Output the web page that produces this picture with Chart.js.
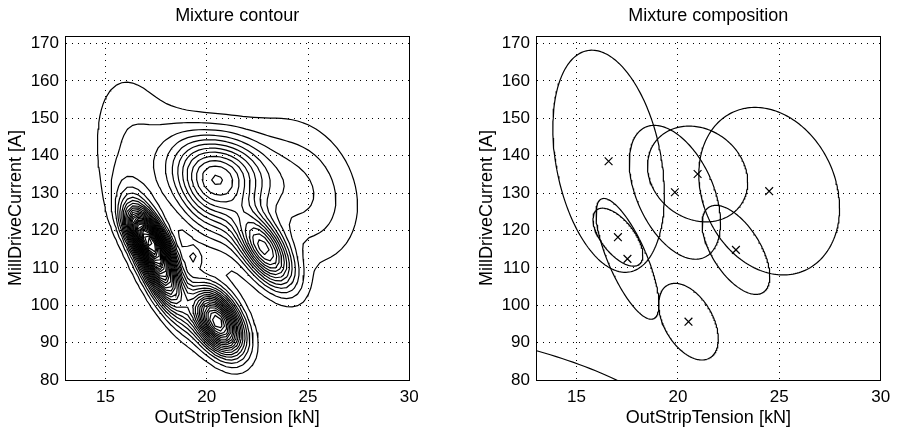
<!DOCTYPE html>
<html>
<head>
<meta charset="utf-8">
<script src="https://cdn.jsdelivr.net/npm/chart.js@4.4.1/dist/chart.umd.min.js"></script>
<style>
  html, body { margin: 0; padding: 0; background: #fff; }
  .panel { position: absolute; top: 0; width: 449px; height: 431px; }
</style>
</head>
<body>
<div class="panel" style="left:0"><canvas id="contour" width="449" height="431"></canvas></div>
<div class="panel" style="left:449px"><canvas id="composition" width="449" height="431"></canvas></div>
<script>
// Mixture components: centre = cross, shape = drawn ellipse
var compX   = [16.58, 19.85, 20.97, 24.50, 22.86, 20.52, 17.04, 17.51, 11.0];
var compY   = [138.5, 130.2, 135.1, 130.5, 114.8, 95.6, 118.2, 112.4, 72.0];
var compSx  = [2.75, 2.25, 2.47, 3.47, 1.67, 1.47, 1.23, 1.55, 9.7];     // ellipse half width [kN]
var compSy  = [29.7, 17.9, 12.8, 22.4, 11.9, 10.25, 7.75, 16.15, 21.3];  // ellipse half height [A]
var compRho = [-0.30, -0.45, -0.17, -0.20, -0.59, -0.45, -0.62, -0.75, -0.50];

// Peak height of each component in the left panel, counted in contour steps
var compPeak = [2.25, 5.5, 8.5, 3.2, 12.5, 20, 12, 20, 0];

// small isolated hill between the ridges in the left panel
var hillX = [19.35], hillY = [112.8], hillSx = [0.5], hillSy = [3.5], hillRho = [-0.3], hillPeak = [2.4];

var xTicks = [15, 20, 25, 30];
var yTicks = [80, 90, 100, 110, 120, 130, 140, 150, 160, 170];

var FAMILY = '"Liberation Sans", Arial, Helvetica, sans-serif';
var TICK_FONT = { family: FAMILY, size: 17, weight: 'normal' };
var TITLE_FONT = { family: FAMILY, size: 18, weight: 'normal' };

// ellipses are drawn at about 1.8 standard deviations
var SIGMAS = 1.8;

function gauss(x, y, cx, cy, sx, sy, r, h) {
  var u = (x - cx) / sx, v = (y - cy) / sy;
  var q = (u * u - 2 * r * u * v + v * v) / (1 - r * r);
  return h * Math.exp(-0.5 * SIGMAS * SIGMAS * q);
}

function density(x, y) {
  var f = 0, i;
  for (i = 0; i < compX.length; i++) f += gauss(x, y, compX[i], compY[i], compSx[i], compSy[i], compRho[i], compPeak[i]);
  for (i = 0; i < hillX.length; i++) f += gauss(x, y, hillX[i], hillY[i], hillSx[i], hillSy[i], hillRho[i], hillPeak[i]);
  return f;
}

// evaluation grid (coarse, like the original)
var nx = 71, ny = 61, gx = [], gy = [], field = [], fmax = 0;
for (var i = 0; i < nx; i++) gx.push(12 + 19 * i / (nx - 1));
for (var j = 0; j < ny; j++) gy.push(74 + 102 * j / (ny - 1));
for (j = 0; j < ny; j++) {
  field.push([]);
  for (i = 0; i < nx; i++) { var d = density(gx[i], gy[j]); field[j].push(d); if (d > fmax) fmax = d; }
}

var CASES = { 1: [[3, 0]], 2: [[0, 1]], 3: [[3, 1]], 4: [[1, 2]], 6: [[0, 2]], 7: [[3, 2]], 8: [[2, 3]],
              9: [[0, 2]], 11: [[1, 2]], 12: [[1, 3]], 13: [[0, 1]], 14: [[0, 3]] };

function contourLevel(level) {
  var pts = {}, segs = [];
  function edge(key, xa, ya, va, xb, yb, vb) {
    if ((va > level) === (vb > level)) return null;
    if (!pts[key]) { var t = (level - va) / (vb - va); pts[key] = { x: xa + t * (xb - xa), y: ya + t * (yb - ya) }; }
    return key;
  }
  for (var j = 0; j < ny - 1; j++) {
    for (var i = 0; i < nx - 1; i++) {
      var v0 = field[j][i], v1 = field[j][i + 1], v2 = field[j + 1][i + 1], v3 = field[j + 1][i];
      var c = (v0 > level ? 1 : 0) | (v1 > level ? 2 : 0) | (v2 > level ? 4 : 0) | (v3 > level ? 8 : 0);
      if (c === 0 || c === 15) continue;
      var x0 = gx[i], x1 = gx[i + 1], y0 = gy[j], y1 = gy[j + 1];
      var keys = [
        edge('h' + i + '_' + j, x0, y0, v0, x1, y0, v1),
        edge('v' + (i + 1) + '_' + j, x1, y0, v1, x1, y1, v2),
        edge('h' + i + '_' + (j + 1), x0, y1, v3, x1, y1, v2),
        edge('v' + i + '_' + j, x0, y0, v0, x0, y1, v3)
      ];
      var pairs;
      if (c === 5 || c === 10) {
        var centre = (v0 + v1 + v2 + v3) / 4 > level;
        pairs = ((c === 5) === centre) ? [[0, 1], [2, 3]] : [[3, 0], [1, 2]];
      } else {
        pairs = CASES[c];
      }
      for (var p = 0; p < pairs.length; p++) segs.push([keys[pairs[p][0]], keys[pairs[p][1]]]);
    }
  }
  // join the segments into polylines
  var adj = {}, used = [];
  segs.forEach(function (s, k) {
    (adj[s[0]] = adj[s[0]] || []).push(k);
    (adj[s[1]] = adj[s[1]] || []).push(k);
  });
  function walk(key) {
    var list = [];
    for (;;) {
      var next = -1, cand = adj[key];
      for (var m = 0; m < cand.length; m++) if (!used[cand[m]]) { next = cand[m]; break; }
      if (next < 0) break;
      used[next] = true;
      key = segs[next][0] === key ? segs[next][1] : segs[next][0];
      list.push(key);
    }
    return list;
  }
  var out = [];
  for (var k = 0; k < segs.length; k++) {
    if (used[k]) continue;
    used[k] = true;
    var fwd = walk(segs[k][1]);
    var back = walk(segs[k][0]).reverse();
    var chain = back.concat([segs[k][0], segs[k][1]], fwd);
    chain.forEach(function (key) { out.push(pts[key]); });
    out.push({ x: NaN, y: NaN });
  }
  return out;
}

function ellipsePoints(i) {
  var pts = [], s = Math.sqrt(1 - compRho[i] * compRho[i]);
  for (var n = 0; n <= 200; n++) {
    var t = 2 * Math.PI * n / 200;
    pts.push({ x: compX[i] + compSx[i] * Math.cos(t),
               y: compY[i] + compSy[i] * (compRho[i] * Math.cos(t) + s * Math.sin(t)) });
  }
  return pts;
}

function lineSet(data) {
  return { data: data, showLine: true, borderColor: '#000', borderWidth: 1.2, pointRadius: 0,
           spanGaps: false, tension: 0, fill: false };
}

function makeChart(id, title, datasets, padLeft, padRight) {
  return new Chart(document.getElementById(id), {
    type: 'scatter',
    data: { datasets: datasets },
    options: {
      responsive: false,
      animation: false,
      events: [],
      layout: { padding: { left: padLeft, right: padRight, top: 0, bottom: 0 } },
      plugins: { legend: { display: false }, tooltip: { enabled: false } },
      scales: {
        x: {
          type: 'linear', position: 'bottom', min: 13, max: 30,
          afterBuildTicks: function (s) { s.ticks = xTicks.map(function (v) { return { value: v }; }); },
          ticks: { color: '#000', font: TICK_FONT, padding: 7, maxRotation: 0 },
          grid: { color: '#000', lineWidth: 1, drawTicks: false },
          border: { color: '#000', width: 1, dash: [1, 5] },
          title: { display: true, text: 'OutStripTension [kN]', color: '#000', font: TITLE_FONT, padding: { top: 0, bottom: 2 } },
          afterFit: function (s) { s.height = 51; }
        },
        y: {
          type: 'linear', position: 'left', min: 80, max: 172,
          afterBuildTicks: function (s) { s.ticks = yTicks.map(function (v) { return { value: v }; }); },
          ticks: { color: '#000', font: TICK_FONT, padding: 6 },
          grid: { color: '#000', lineWidth: 1, drawTicks: false },
          border: { color: '#000', width: 1, dash: [1, 5] },
          title: { display: true, text: 'MillDriveCurrent [A]', color: '#000', font: TITLE_FONT, padding: { top: 5, bottom: 0 } },
          afterFit: function (s) { s.width = 65; }
        },
        x2: {
          type: 'linear', position: 'top', min: 13, max: 30,
          ticks: { display: false }, grid: { display: false },
          border: { color: '#000', width: 1 },
          title: { display: true, text: title, color: '#000', font: TITLE_FONT, padding: { top: 5.5, bottom: 0 } },
          afterFit: function (s) { s.height = 36; }
        },
        y2: {
          type: 'linear', position: 'right', min: 80, max: 172,
          ticks: { display: false }, grid: { display: false },
          border: { color: '#000', width: 1 },
          afterFit: function (s) { s.width = 0; }
        }
      }
    }
  });
}

// left: contour of the mixture density
var contourSets = [];
for (var level = 1; level < fmax; level += 1) contourSets.push(lineSet(contourLevel(level)));
makeChart('contour', 'Mixture contour', contourSets, 0, 39.7);

// right: component ellipses and centres
var compSets = [];
for (var c = 0; c < compX.length; c++) compSets.push(lineSet(ellipsePoints(c)));
compSets.push({
  data: compX.map(function (x, k) { return { x: x, y: compY[k] }; }),
  showLine: false, pointStyle: 'crossRot', pointRadius: 5.5, borderColor: '#000', borderWidth: 1.2
});
makeChart('composition', 'Mixture composition', compSets, 22, 17.3);
</script>
</body>
</html>
